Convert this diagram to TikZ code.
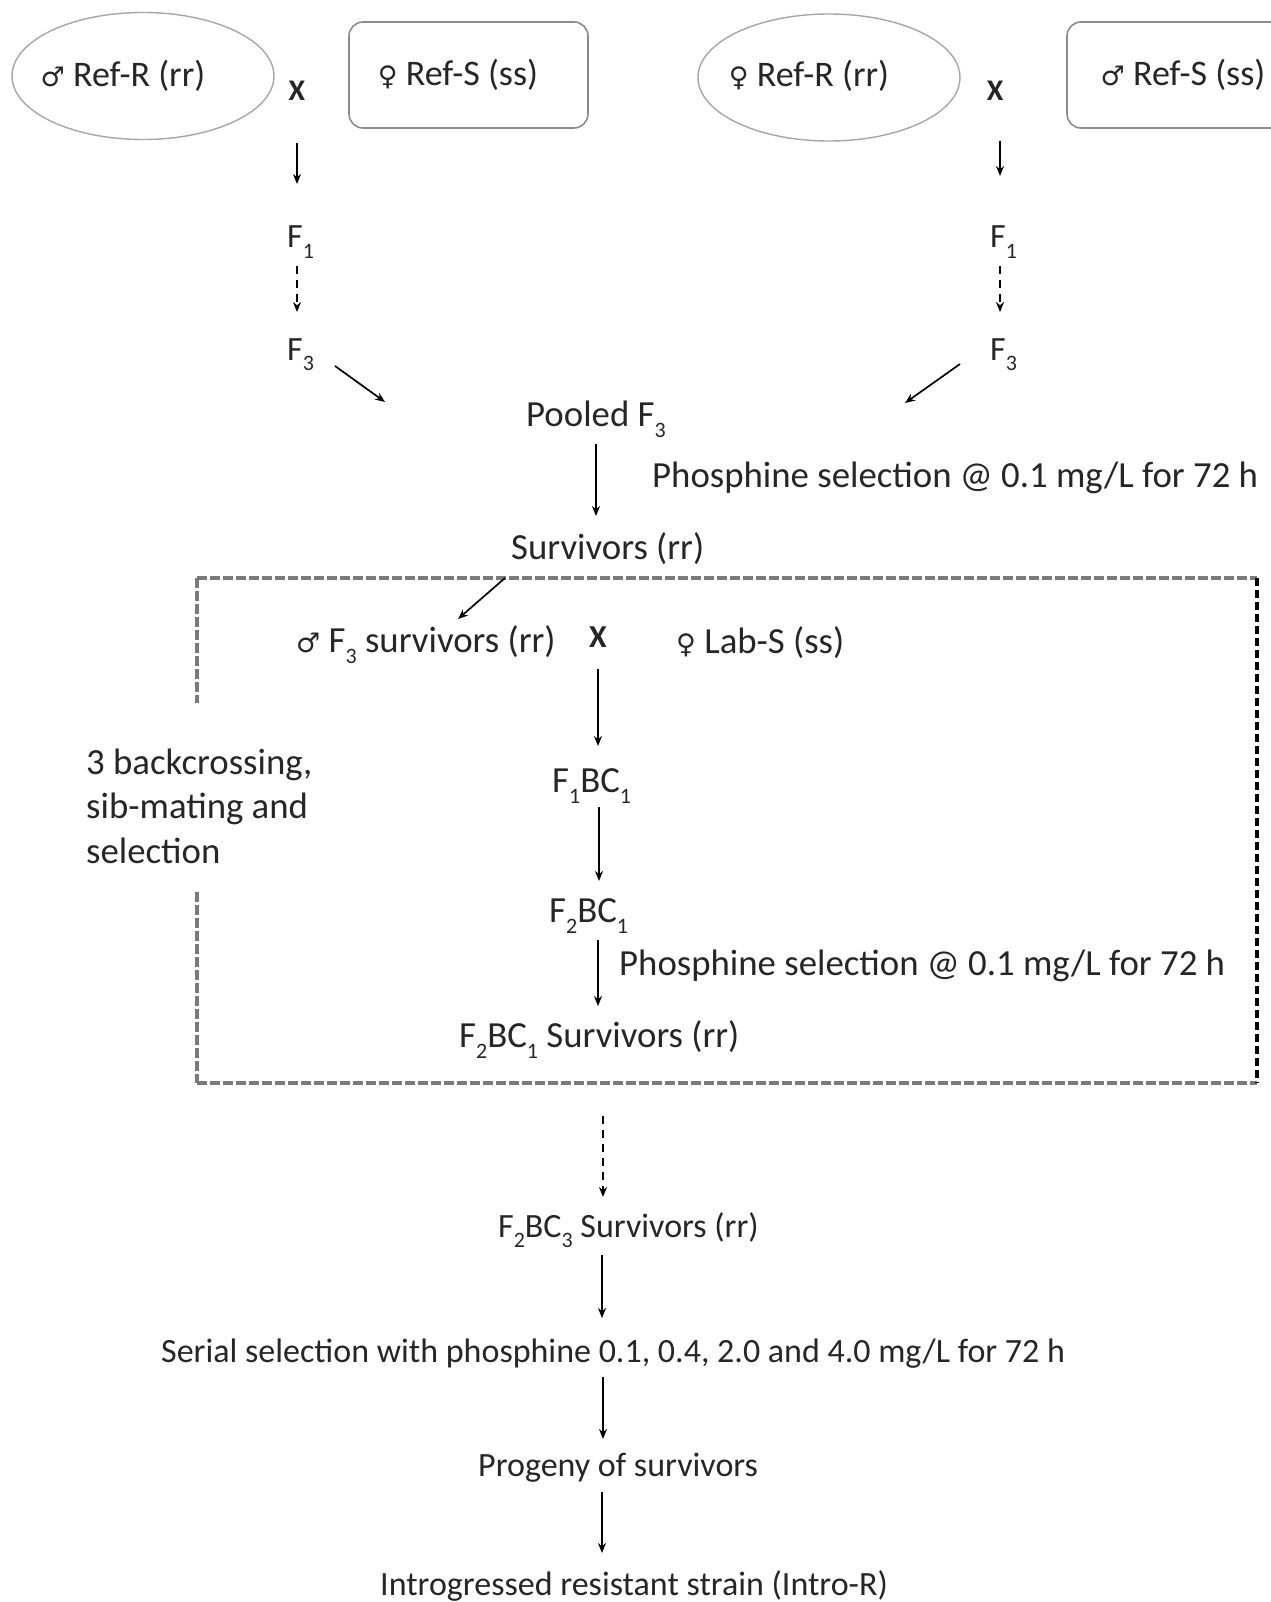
\documentclass[tikz,border=0pt]{standalone}
\usepackage{fontspec}
\setmainfont{Carlito}
\newfontfamily\symf{DejaVu Sans}
\usetikzlibrary{arrows.meta,shapes.geometric}
\definecolor{txtc}{HTML}{262626}
\definecolor{ellc}{HTML}{A6A6A6}
\definecolor{boxc}{HTML}{8C8C8C}
\definecolor{dashc}{HTML}{7A7A7A}
\newcommand\mal{{\symf\fontsize{27}{27}\selectfont ♂}}
\newcommand\fem{{\symf\fontsize{27}{27}\selectfont ♀}}
\newcommand\lo[1]{\raisebox{-0.3em}{\fontsize{22}{22}\selectfont #1}}
\tikzset{
  txt/.style={anchor=base west, inner sep=0pt, text=txtc},
  ctxt/.style={anchor=base, inner sep=0pt, text=txtc},
  bigt/.style={font=\fontsize{36.8}{44.5}\selectfont},
  topt/.style={font=\fontsize{36}{44.5}\selectfont},
  ell/.style={draw=ellc, line width=1.4pt, ellipse, inner sep=0pt},
  rbox/.style={draw=boxc, line width=1.6pt, rounded corners=14pt, inner sep=0pt},
  arr/.style={line width=1.7pt, -{Stealth[length=10pt,width=8pt]}},
  darr/.style={line width=1.7pt, dash pattern=on 8pt off 6pt, -{Stealth[length=10pt,width=8pt]}},
  gdash/.style={draw=dashc, line width=4.5pt, dash pattern=on 10pt off 3pt},
  kdash/.style={draw=black, line width=3.2pt, dash pattern=on 8pt off 4pt},
  crossx/.style={anchor=base, inner sep=0pt, text=txtc, font=\fontsize{30}{30}\selectfont\bfseries}
}
\begin{document}
\begin{tikzpicture}[x=1pt, y=-1pt, font=\fontsize{34}{44.5}\selectfont]
\useasboundingbox (0,0) rectangle (1270,1602);
% top row
\node[ell, minimum width=262pt, minimum height=127pt] (e1) at (143,76) {};
\node[ctxt, topt] (t1) at (123,87) {\mal\ Ref-R (rr)};
\node[crossx] (x1) at (297,101) {X};
\node[rbox, minimum width=239pt, minimum height=106pt] (r1) at (468.5,75) {};
\node[ctxt, topt] (t2) at (458,86) {\fem\ Ref-S (ss)};
\node[ell, minimum width=262pt, minimum height=127pt] (e2) at (829,77.5) {};
\node[ctxt, topt] (t3) at (809,87) {\fem\ Ref-R (rr)};
\node[crossx] (x2) at (995,101) {X};
\node[rbox, minimum width=243pt, minimum height=106pt] (r2) at (1188.5,75) {};
\node[ctxt, topt] (t4) at (1183,86) {\mal\ Ref-S (ss)};
% left column
\node[txt] (lf1) at (287,248) {F\lo{1}};
\node[txt] (lf3) at (287,360) {F\lo{3}};
\coordinate (la0) at (297,143); \coordinate (la1) at (297,184);
\coordinate (ld0) at (297,266); \coordinate (ld1) at (297,312);
\coordinate (lg0) at (335,366); \coordinate (lg1) at (385,402);
\draw[arr] (la0) -- (la1);
\draw[darr] (ld0) -- (ld1);
\draw[arr] (lg0) -- (lg1);
% right column
\node[txt] (rf1) at (990,248) {F\lo{1}};
\node[txt] (rf3) at (990,360) {F\lo{3}};
\coordinate (ra0) at (1000,141); \coordinate (ra1) at (1000,176);
\coordinate (rd0) at (1000,266); \coordinate (rd1) at (1000,312);
\coordinate (rg0) at (960,364); \coordinate (rg1) at (905,403);
\draw[arr] (ra0) -- (ra1);
\draw[darr] (rd0) -- (rd1);
\draw[arr] (rg0) -- (rg1);
% pooled
\node[txt, bigt] (pool) at (526,426) {Pooled F\lo{3}};
\coordinate (pa0) at (596,444); \coordinate (pa1) at (596,516);
\draw[arr] (pa0) -- (pa1);
\node[txt, bigt] (ph1) at (652,487) {Phosphine selection @ 0.1 mg/L for 72 h};
\node[txt, bigt] (surv) at (511,559) {Survivors (rr)};
% dashed box
\coordinate (bTL) at (197,578); \coordinate (bTR) at (1257,578);
\coordinate (bBL) at (197,1083); \coordinate (bBR) at (1257,1083);
\coordinate (gapT) at (197,703); \coordinate (gapB) at (197,892);
\draw[gdash] (bTL) -- (bTR);
\draw[gdash] (bBL) -- (bBR);
\draw[kdash] (bTR) -- (bBR);
\draw[gdash] (bTL) -- (gapT);
\draw[gdash] (gapB) -- (bBL);
\node[anchor=west, inner sep=0pt, text=txtc, align=left, bigt] (note) at (86,806) {3 backcrossing,\\sib-mating and\\selection};
% inside box
\coordinate (sa0) at (505,578); \coordinate (sa1) at (458,619);
\draw[arr] (sa0) -- (sa1);
\node[txt, bigt] (mf3) at (296,652) {\mal\ F\lo{3} survivors (rr)};
\node[crossx, font=\fontsize{32}{32}\selectfont\bfseries] (x3) at (598,647) {X};
\node[txt, bigt] (labs) at (676,653) {\fem\ Lab-S (ss)};
\coordinate (ba0) at (598,669); \coordinate (ba1) at (598,746);
\draw[arr] (ba0) -- (ba1);
\node[txt, bigt] (f1bc1) at (552,792) {F\lo{1}BC\lo{1}};
\coordinate (bb0) at (599,807); \coordinate (bb1) at (599,881);
\draw[arr] (bb0) -- (bb1);
\node[txt, bigt] (f2bc1) at (549,922) {F\lo{2}BC\lo{1}};
\coordinate (bc0) at (598,940); \coordinate (bc1) at (598,1006);
\draw[arr] (bc0) -- (bc1);
\node[txt, bigt] (ph2) at (619,975) {Phosphine selection @ 0.1 mg/L for 72 h};
\node[txt, bigt] (f2s) at (459,1047) {F\lo{2}BC\lo{1} Survivors (rr)};
% below box
\coordinate (da0) at (603,1116); \coordinate (da1) at (603,1197);
\draw[darr] (da0) -- (da1);
\node[txt] (f3s) at (498,1237) {F\lo{2}BC\lo{3} Survivors (rr)};
\coordinate (ea0) at (602,1255); \coordinate (ea1) at (602,1318);
\draw[arr] (ea0) -- (ea1);
\node[txt] (serial) at (161,1362) {Serial selection with phosphine 0.1, 0.4, 2.0 and 4.0 mg/L for 72 h};
\coordinate (fa0) at (603,1377); \coordinate (fa1) at (603,1439);
\draw[arr] (fa0) -- (fa1);
\node[txt] (prog) at (478,1476) {Progeny of survivors};
\coordinate (ga0) at (602,1492); \coordinate (ga1) at (602,1553);
\draw[arr] (ga0) -- (ga1);
\node[txt] (intro) at (380,1595) {Introgressed resistant strain (Intro-R)};
\end{tikzpicture}
\end{document}
